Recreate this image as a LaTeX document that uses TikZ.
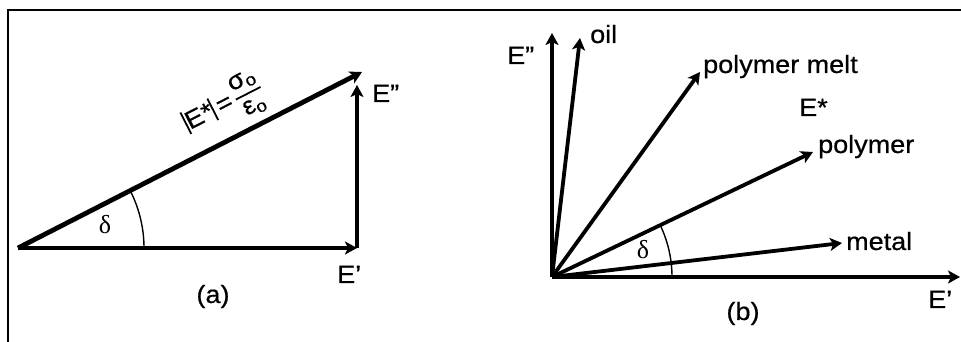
\documentclass[tikz,border=0pt]{standalone}
\usepackage{fontspec}
\setmainfont{Liberation Sans}[FakeStretch=1.08,FakeBold=0.6]
\newfontfamily\deltafont{Liberation Serif}
\usetikzlibrary{arrows.meta,positioning}
\newcommand\modbar{\rule[-4pt]{1.8pt}{24pt}}
\tikzset{
  framestyle/.style={draw=black,line width=2pt},
  vecarrow/.style={-{Stealth[length=12pt,width=13pt,inset=3pt]},line width=4.8pt},
  thinvec/.style={vecarrow,line width=3.8pt},
  anglearc/.style={draw=black,line width=1.4pt},
  lbl/.style={inner sep=0pt,font=\fontsize{25}{28}\selectfont},
  anglelbl/.style={inner sep=0pt,font=\deltafont\fontsize{26}{30}\selectfont}
}

\begin{document}
\begin{tikzpicture}[x=1pt,y=1pt]
  \useasboundingbox (0,0) rectangle (961,342);
  \draw[framestyle] (8,0) |- (961,332);

  % (a) the triangle of moduli
  \coordinate (oa) at (18,94);
  \coordinate (eprime) at (357,94);
  \coordinate (edouble) at (357,257);
  \coordinate (estar) at (362,270);
  \draw[vecarrow] (oa) -- (eprime);
  \draw[vecarrow] (eprime) -- (edouble);
  \draw[vecarrow] (oa) -- (estar)
    node[lbl,sloped,above=3pt,pos=.64]
    {\setlength\arrayrulewidth{1.8pt}\renewcommand\arraystretch{.95}%
     \modbar E*\modbar\,=\,\begin{tabular}{@{}c@{}}σ\textsubscript{o}\\\hline ε\textsubscript{o}\end{tabular}};
  \draw[anglearc] ([shift={(0:126)}]oa) arc[start angle=0,end angle=27.1,radius=126];
  \node[anglelbl] (deltaa) at (105,117) {δ};
  \node[lbl,anchor=base west] (edlbla) at (372,240) {E”};
  \node[lbl,anchor=base west] (eplbla) at (337,59) {E’};
  \node[lbl,anchor=base] (capa) at (213,39) {(a)};

  % (b) materials
  \coordinate (ob) at (552,65);
  \coordinate (xend) at (960,65);
  \coordinate (yend) at (552,309);
  \coordinate (oiltip) at (580,304);
  \coordinate (melttip) at (700,270);
  \coordinate (polytip) at (813,190);
  \coordinate (metaltip) at (842,99);
  \draw[vecarrow] (ob) -- (xend);
  \draw[vecarrow] (ob) -- (yend);
  \foreach \tip in {oiltip,melttip,polytip,metaltip}
    \draw[thinvec] (ob) -- (\tip);
  \draw[anglearc] ([shift={(0:120)}]ob) arc[start angle=0,end angle=25.6,radius=120];
  \node[anglelbl] (deltab) at (643,92) {δ};
  \node[lbl,anchor=base west] (edlblb) at (507,278) {E”};
  \node[lbl,anchor=base west] (oillbl) at (590,299) {oil};
  \node[lbl,anchor=base west] (meltlbl) at (703,269) {polymer melt};
  \node[lbl,anchor=base west] (estarlbl) at (799,226) {E*};
  \node[lbl,anchor=base west] (polylbl) at (818,189) {polymer};
  \node[lbl,anchor=base west] (metallbl) at (846,92) {metal};
  \node[lbl,anchor=base west] (eplblb) at (928,34) {E’};
  \node[lbl,anchor=base] (capb) at (743,22) {(b)};
\end{tikzpicture}
\end{document}
